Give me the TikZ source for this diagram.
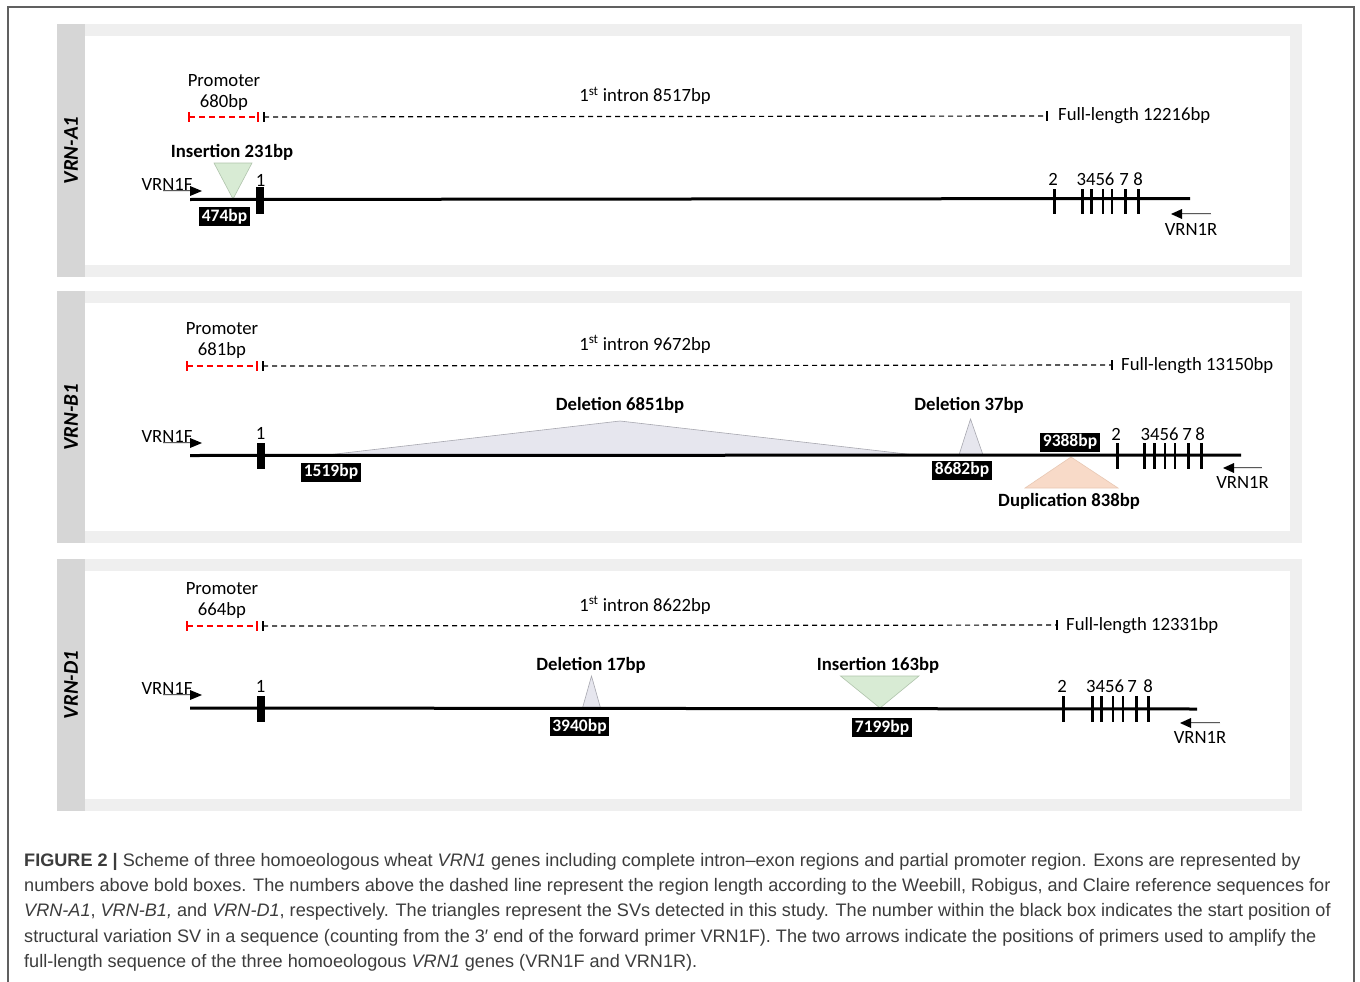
\documentclass[tikz,border=0pt]{standalone}
\usepackage{fontspec}
\setmainfont{Carlito}
\newfontfamily\capfont{Liberation Sans}
\definecolor{panelbg}{HTML}{EFEFEF}
\definecolor{stripbg}{HTML}{D6D6D6}
\definecolor{delfill}{HTML}{E6E6EE}
\definecolor{delline}{HTML}{A8A8B0}
\definecolor{insfill}{HTML}{D8EBD4}
\definecolor{insline}{HTML}{B0C4AC}
\definecolor{dupfill}{HTML}{F8DAC8}
\definecolor{dupline}{HTML}{E8C8B4}
\definecolor{capcol}{HTML}{3C3C3C}
\definecolor{framecol}{HTML}{606060}
\definecolor{promred}{HTML}{FF0000}
\tikzset{
  lbl/.style={font=\fontsize{18.7}{22}\selectfont, inner sep=0pt, anchor=base},
  blbl/.style={font=\bfseries\fontsize{18.7}{22}\selectfont, inner sep=0pt, anchor=base},
  panlbl/.style={font=\bfseries\itshape\fontsize{21}{23}\selectfont, inner sep=0pt, rotate=90},
  posbox/.style={fill=black, text=white, font=\bfseries\fontsize{17.5}{19}\selectfont, inner xsep=2.5pt, inner ysep=0pt, minimum height=19pt},
  gene/.style={line width=3pt},
  exonbox/.style={fill=black},
  prom/.style={draw=promred, line width=1.6pt, dash pattern=on 6pt off 4pt},
  promtick/.style={draw=promred, line width=1.6pt},
  intron/.style={draw=black, line width=1.2pt, dash pattern=on 5pt off 4pt},
  itick/.style={draw=black, line width=1.3pt},
  delt/.style={fill=delfill, draw=delline, line width=0.6pt},
  inst/.style={fill=insfill, draw=insline, line width=0.6pt},
  dupt/.style={fill=dupfill, draw=dupline, line width=0.6pt},
  primshaft/.style={draw=gray!70!black, double=gray!20, double distance=0.7pt, line width=0.6pt},
  caption/.style={font=\capfont\fontsize{18.1}{25}\selectfont, text=capcol, inner sep=0pt, anchor=base west}
}
\newcommand\genepanel[4]{%
  \fill[panelbg] (57,#1) rectangle (1302,#2);
  \fill[stripbg] (57,#1) rectangle (85,#2);
  \fill[white] (85,#1+12) rectangle (1290,#2-12);
  \node[panlbl] (#4) at (71,{(#1+#2)/2}) {#3};
}
\newcommand\fwdprimer[3]{% x text, baseline, name
  \node[lbl] (#3) at (#1,#2) {VRN1F};
  \coordinate (#3s) at (#1-4,#2+1);
  \coordinate (#3e) at (#1+23,#2+1);
  \draw[primshaft] (#3s) -- (#3e);
  \fill (#3e) ++(0,-5) -- ++(12,5) -- ++(-12,5) -- cycle;
}
\newcommand\revprimer[5]{% tail x, tip x, arrow y, text baseline, name
  \coordinate (#5s) at (#1,#3);
  \coordinate (#5e) at (#2+11,#3);
  \draw[primshaft] (#5s) -- (#5e);
  \fill (#5e) ++(0,-5) -- ++(-11,5) -- ++(11,5) -- cycle;
  \node[lbl] (#5t) at ({(#1+#2)/2},#4) {VRN1R};
}
\newcommand\exonset[7]{% y top, y bottom, label baseline, x list, 3456 centre, x7 label, x8 label
  \foreach \xx/\w in {#4}{\draw[line width=\w pt] (\xx,#1) -- (\xx,#2);}
  \node[lbl] at (#5,#3) {3456};
  \node[lbl] at (#6,#3) {7};
  \node[lbl] at (#7,#3) {8};
}
\begin{document}
\begin{tikzpicture}[x=1pt,y=-1pt]
\useasboundingbox (0,0) rectangle (1360,982);
\fill[white] (0,0) rectangle (1360,982);
\draw[framecol, line width=1.5pt] (8,982) -- (8,7) -- (1354,7) -- (1354,982);

% ================= Panel A =================
\genepanel{24}{277}{VRN-A1}{pA}
\node[lbl] (Aprom) at (224,86) {Promoter};
\node[lbl] (Apromlen) at (224,107) {680bp};
\draw[prom] (189,117) -- (258,117);
\draw[promtick] (189,112) -- (189,122);
\draw[promtick] (258,112) -- (258,122);
\draw[intron] (264,117) -- (1047,116);
\draw[itick] (264,112) -- (264,122);
\draw[itick] (1047,111) -- (1047,121);
\node[lbl] (Aintron) at (645,102) {1\textsuperscript{st} intron 8517bp};
\node[lbl, anchor=base west] (Afull) at (1058,121) {Full-length 12216bp};
\fill[inst] (214,163) -- (252,163) -- (233,199) -- cycle;
\node[blbl] (Ains) at (232,157) {Insertion 231bp};
\draw[gene] (190,199.5) -- (1190,198.5);
\fill[exonbox] (256,187) rectangle (264,214);
\node[lbl] (Aex1) at (260.5,186) {1};
\node[lbl] (Aex2) at (1053,185) {2};
\exonset{189}{214}{185}{1054/3, 1082/3, 1091/3, 1103/1.6, 1112/1.6, 1125/3, 1138/3}{1095.5}{1124}{1138}
\node[posbox] (A474) at (224.5,216.5) {474bp};
\fwdprimer{167}{190}{Af}
\revprimer{1211}{1171}{214}{235}{Ar}

% ================= Panel B =================
\genepanel{291}{543}{VRN-B1}{pB}
\node[lbl] (Bprom) at (222,334) {Promoter};
\node[lbl] (Bpromlen) at (222,355) {681bp};
\draw[prom] (187,366) -- (257,366);
\draw[promtick] (187,361) -- (187,371);
\draw[promtick] (257,361) -- (257,371);
\draw[intron] (263,366) -- (1112,365);
\draw[itick] (263,361) -- (263,371);
\draw[itick] (1112,360) -- (1112,370);
\node[lbl] (Bintron) at (645,350) {1\textsuperscript{st} intron 9672bp};
\node[lbl, anchor=base west] (Bfull) at (1121,370) {Full-length 13150bp};
\fill[delt] (327,455) -- (620,421) -- (915,455) -- cycle;
\node[blbl] (Bdel1) at (620,410) {Deletion 6851bp};
\fill[delt] (959,455) -- (970.5,419) -- (983,455) -- cycle;
\node[blbl] (Bdel2) at (969,410) {Deletion 37bp};
\fill[dupt] (1025,488) -- (1071,457) -- (1118,488) -- cycle;
\node[blbl] (Bdup) at (1069,506) {Duplication 838bp};
\draw[gene] (190,455.5) -- (1241,455);
\fill[exonbox] (256.5,443) rectangle (264.5,469);
\node[lbl] (Bex1) at (260.5,439) {1};
\node[lbl] (Bex2) at (1116,440) {2};
\exonset{443}{469}{440}{1117/3, 1144/3, 1154/3, 1165/1.6, 1175/1.6, 1188/3, 1201/3}{1159.5}{1187}{1200}
\node[posbox] (B1519) at (331,472) {1519bp};
\node[posbox] (B8682) at (962,470) {8682bp};
\node[posbox] (B9388) at (1070,442) {9388bp};
\fwdprimer{167}{442}{Bf}
\revprimer{1262}{1223}{468}{488}{Br}

% ================= Panel D =================
\genepanel{559}{811}{VRN-D1}{pD}
\node[lbl] (Dprom) at (222,594) {Promoter};
\node[lbl] (Dpromlen) at (222,615) {664bp};
\draw[prom] (187,626) -- (257,626);
\draw[promtick] (187,621) -- (187,631);
\draw[promtick] (257,621) -- (257,631);
\draw[intron] (263,626) -- (1057,625);
\draw[itick] (263,621) -- (263,631);
\draw[itick] (1057,620) -- (1057,630);
\node[lbl] (Dintron) at (645,611) {1\textsuperscript{st} intron 8622bp};
\node[lbl, anchor=base west] (Dfull) at (1066,630) {Full-length 12331bp};
\fill[delt] (582.5,708) -- (591.5,676) -- (600.5,708) -- cycle;
\node[blbl] (Ddel) at (591,670) {Deletion 17bp};
\fill[inst] (840.5,676) -- (919,676) -- (880,708) -- cycle;
\node[blbl] (Dins) at (878,670) {Insertion 163bp};
\draw[gene] (190,708) -- (1197,709);
\fill[exonbox] (256.5,696) rectangle (264.5,722);
\node[lbl] (Dex1) at (260.5,692) {1};
\node[lbl] (Dex2) at (1062,692) {2};
\exonset{696}{722}{692}{1063/3, 1092/3, 1101/3, 1113/1.6, 1123/1.6, 1136/3, 1148/3}{1105}{1132}{1148}
\node[posbox] (D3940) at (579.5,726.5) {3940bp};
\node[posbox] (D7199) at (882,727.5) {7199bp};
\fwdprimer{167}{694}{Df}
\revprimer{1220}{1180}{723}{743}{Dr}

% ================= Caption =================
\node[caption] (cap1) at (24,866) {\textbf{FIGURE 2 |} Scheme of three homoeologous wheat \textit{VRN1} genes including complete intron–exon regions and partial promoter region. Exons are represented by};
\node[caption] (cap2) at (24,891) {numbers above bold boxes. The numbers above the dashed line represent the region length according to the Weebill, Robigus, and Claire reference sequences for};
\node[caption] (cap3) at (24,916) {\textit{VRN-A1}, \textit{VRN-B1,} and \textit{VRN-D1}, respectively. The triangles represent the SVs detected in this study. The number within the black box indicates the start position of};
\node[caption] (cap4) at (24,942) {structural variation SV in a sequence (counting from the 3′ end of the forward primer VRN1F). The two arrows indicate the positions of primers used to amplify the};
\node[caption] (cap5) at (24,967) {full-length sequence of the three homoeologous \textit{VRN1} genes (VRN1F and VRN1R).};
\end{tikzpicture}
\end{document}
